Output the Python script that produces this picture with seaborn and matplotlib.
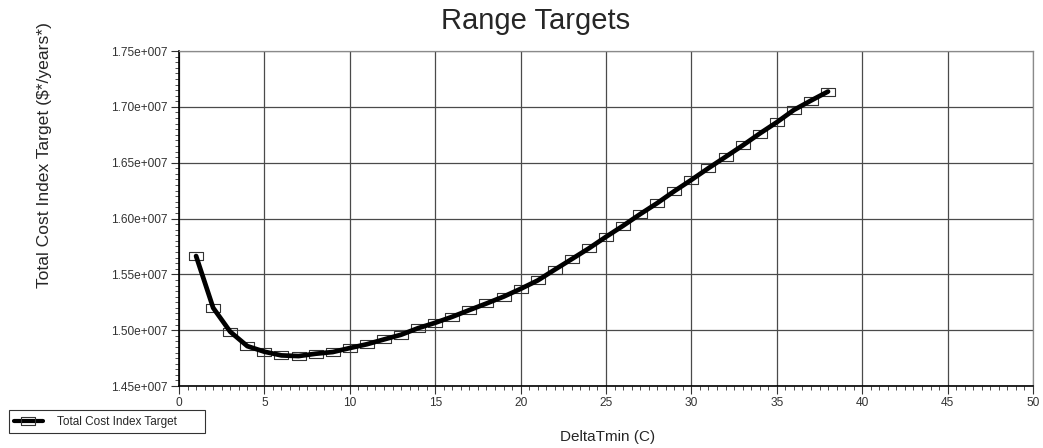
import numpy as np
import pandas as pd
import matplotlib
matplotlib.use("Agg")
import matplotlib.pyplot as plt
import seaborn as sns
from matplotlib.lines import Line2D
from matplotlib.ticker import FuncFormatter, MultipleLocator

# values (DeltaTmin vs total cost index target)
delta_tmin = list(range(1, 39))
cost_target = [
    1.5664e7, 1.5200e7, 1.4986e7, 1.4857e7, 1.4807e7, 1.4774e7, 1.4768e7, 1.4789e7,
    1.4804e7, 1.4840e7, 1.4874e7, 1.4917e7, 1.4959e7, 1.5018e7, 1.5066e7, 1.5120e7,
    1.5180e7, 1.5239e7, 1.5300e7, 1.5370e7, 1.5445e7, 1.5542e7, 1.5637e7, 1.5733e7,
    1.5836e7, 1.5935e7, 1.6039e7, 1.6138e7, 1.6245e7, 1.6346e7, 1.6451e7, 1.6552e7,
    1.6654e7, 1.6761e7, 1.6862e7, 1.6972e7, 1.7056e7, 1.7137e7,
]
series_name = "Total Cost Index Target"

df = pd.DataFrame({"DeltaTmin": delta_tmin, "Cost": cost_target})

sns.set_style("white")
plt.rcParams["font.family"] = ["Liberation Sans", "DejaVu Sans"]

fig = plt.figure(figsize=(10.43, 4.48), dpi=100)
ax = fig.add_axes([179 / 1043, 62 / 448, 854 / 1043, 335 / 448])

# wide flat rectangle marker
rect = [(-1.7, -1), (1.7, -1), (1.7, 1), (-1.7, 1), (-1.7, -1)]

sns.lineplot(data=df, x="DeltaTmin", y="Cost", ax=ax, linestyle="none",
             marker=rect, markersize=10.5, markerfacecolor="none",
             markeredgecolor="#333333", markeredgewidth=0.8, zorder=3)
sns.lineplot(data=df, x="DeltaTmin", y="Cost", ax=ax, color="black",
             linewidth=3.4, zorder=4)

ax.set_xlim(0, 50)
ax.set_ylim(1.45e7, 1.75e7)
ax.xaxis.set_major_locator(MultipleLocator(5))
ax.xaxis.set_minor_locator(MultipleLocator(0.5))
ax.yaxis.set_major_locator(MultipleLocator(0.05e7))
ax.yaxis.set_minor_locator(MultipleLocator(0.005e7))
ax.yaxis.set_major_formatter(FuncFormatter(lambda v, p: f"{v / 1e7:.2f}e+007"))

ax.tick_params(axis="both", which="major", direction="out", length=6, width=0.8,
               color="#333333", labelsize=8.6, labelcolor="#333333", pad=2, bottom=True, left=True)
ax.tick_params(axis="both", which="minor", direction="out", length=3, width=0.6,
               color="#333333", bottom=True, left=True)

ax.grid(True, which="major", color="#4a4a4a", linewidth=0.9)
for side in ("left", "bottom"):
    ax.spines[side].set_color("black")
    ax.spines[side].set_linewidth(1.2)
for side in ("top", "right"):
    ax.spines[side].set_color("#8a8a8a")
    ax.spines[side].set_linewidth(0.9)

ax.set_xlabel("")
ax.set_ylabel("")
fig.text(536 / 1043, 1 - 21 / 448, "Range Targets", ha="center", va="center", fontsize=21)
fig.text(45 / 1043, 1 - 155 / 448, "Total Cost Index Target ($*/years*)", rotation=90,
         ha="center", va="center", fontsize=12.6)
fig.text(608 / 1043, 1 - 437 / 448, "DeltaTmin (C)", ha="center", va="center", fontsize=11)

handle = Line2D([], [], color="black", linewidth=3, marker=rect, markersize=10,
                markerfacecolor="none", markeredgecolor="#333333", markeredgewidth=0.8)
leg = fig.legend([handle], [series_name], loc="lower left", mode="expand",
                 bbox_to_anchor=(9 / 1043, 1 - 433 / 448, 196 / 1043, 22 / 448),
                 fontsize=8.5, frameon=True, fancybox=False, edgecolor="black",
                 handlelength=2.4, handletextpad=1.2, borderpad=0.45, borderaxespad=0)
leg.get_frame().set_linewidth(0.8)

fig.savefig("out.png", dpi=100)
